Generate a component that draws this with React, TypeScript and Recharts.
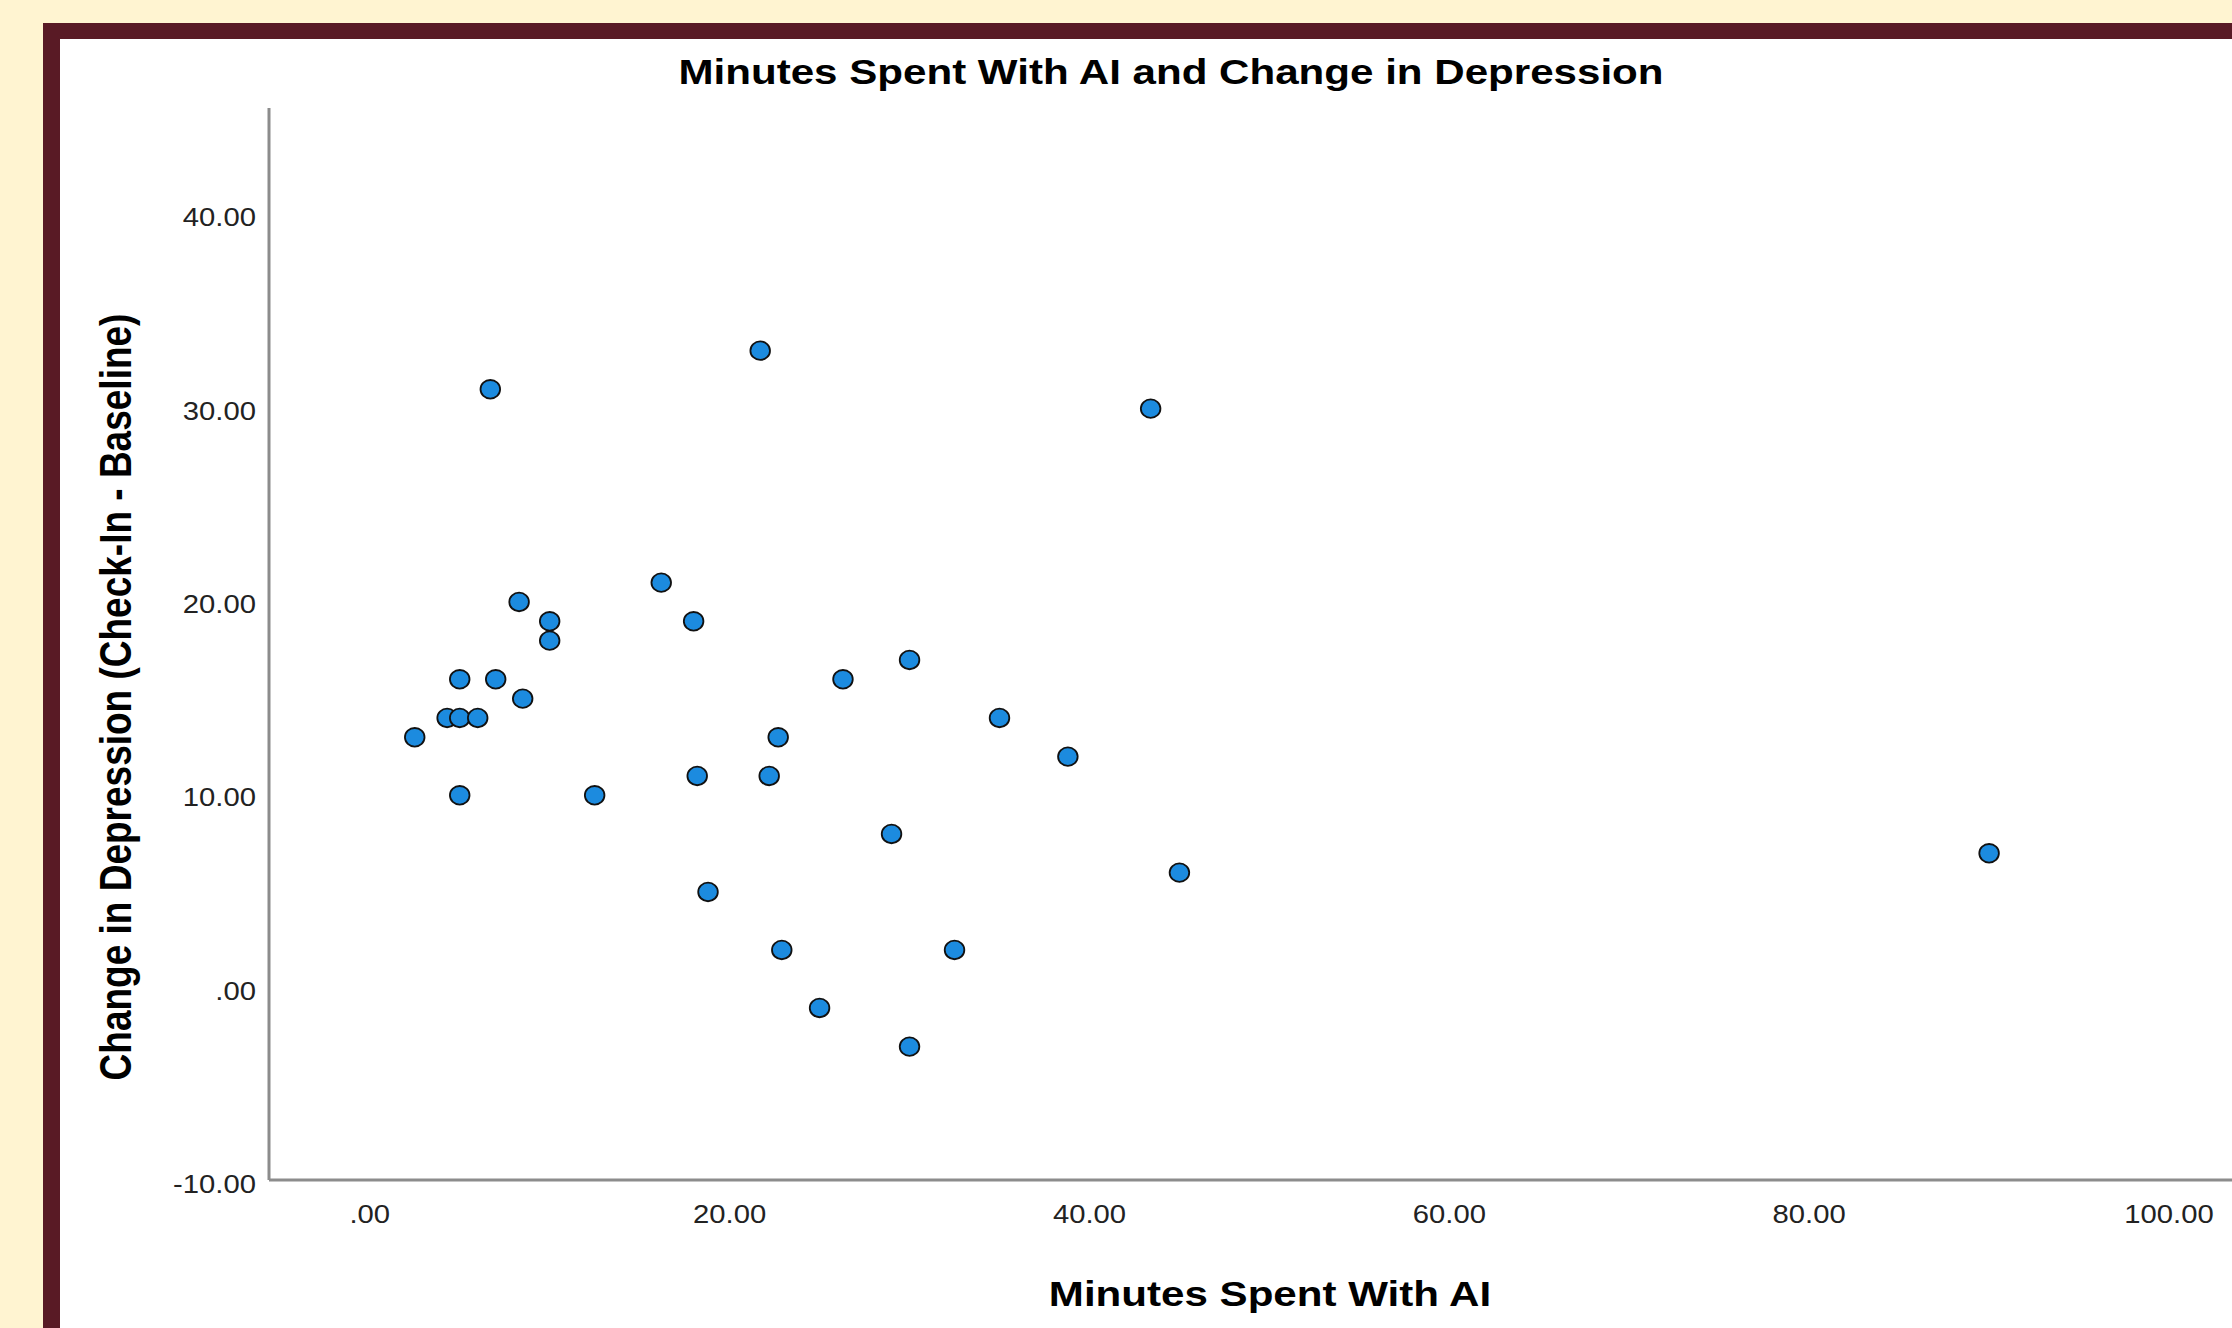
import { ScatterChart, Scatter, XAxis, YAxis } from 'recharts'

// minutes with AI vs change in depression score
const minutes = [
  2.5, 4.3, 5, 6, 5, 7, 5, 6.7, 8.3, 8.5, 10, 10, 12.5, 16.2, 18, 18.2, 18.8, 21.7, 22.2, 22.7, 22.9, 25,
  26.3, 29, 30, 30, 32.5, 35, 38.8, 43.4, 45, 90,
]
const change = [
  13, 14, 14, 14, 16, 16, 10, 31, 20, 15, 19, 18, 10, 21, 19, 11, 5, 33, 11, 13, 2, -1, 16, 8, 17, -3, 2, 14,
  12, 30, 6, 7,
]
const xTicks = [0, 20, 40, 60, 80, 100]
const yTicks = [-10, 0, 10, 20, 30, 40]

const points = minutes.map((m, i) => ({ minutes: m, change: change[i] }))

const FONT = '"Liberation Sans", Arial, sans-serif'
const STRETCH = 1.17

function fmt(v: number): string {
  const s = v.toFixed(2)
  if (s.startsWith('0.')) return s.slice(1)
  return s
}

function XTick({ x, y, payload }: any) {
  return (
    <text
      transform={`translate(${x},${y + 43}) scale(${STRETCH},1)`}
      textAnchor='middle'
      fontFamily={FONT}
      fontSize={25}
      fill='#222'
    >
      {fmt(payload.value)}
    </text>
  )
}

function YTick({ x, y, payload }: any) {
  return (
    <text
      transform={`translate(${x - 13},${y + 11}) scale(${STRETCH},1)`}
      textAnchor='end'
      fontFamily={FONT}
      fontSize={25}
      fill='#222'
    >
      {fmt(payload.value)}
    </text>
  )
}

function Dot({ cx, cy }: any) {
  return <ellipse cx={cx} cy={cy} rx={9.8} ry={9.3} fill='#1C8BDF' stroke='#111' strokeWidth={1.8} />
}

export default function App() {
  return (
    <div
      style={{
        position: 'absolute',
        left: 0,
        top: 0,
        width: 2232,
        height: 1328,
        overflow: 'hidden',
        background: '#FFF4D1',
      }}
    >
      <div
        style={{
          position: 'absolute',
          left: 43,
          top: 23,
          width: 2232,
          height: 1328,
          background: '#591A25',
        }}
      />
      <div
        style={{
          position: 'absolute',
          left: 60,
          top: 39,
          width: 2172,
          height: 1289,
          background: '#fff',
        }}
      >
        <ScatterChart width={2172} height={1289} margin={{ top: 69, right: 0, bottom: 0, left: 0 }}>
          <XAxis
            type='number'
            dataKey='minutes'
            domain={[-5.6, 103.5]}
            ticks={xTicks}
            height={148}
            tickLine={false}
            tickSize={0}
            tickMargin={0}
            axisLine={{ stroke: '#8c8c8c', strokeWidth: 3 }}
            tick={<XTick />}
            allowDataOverflow
          />
          <YAxis
            type='number'
            dataKey='change'
            domain={[-9.9, 45.55]}
            ticks={yTicks}
            width={209}
            tickLine={false}
            tickSize={0}
            tickMargin={0}
            axisLine={{ stroke: '#8c8c8c', strokeWidth: 3 }}
            tick={<YTick />}
            allowDataOverflow
          />
          <Scatter data={points} shape={<Dot />} isAnimationActive={false} />
        </ScatterChart>
        <svg
          width={2172}
          height={1289}
          style={{ position: 'absolute', left: 0, top: 0, pointerEvents: 'none' }}
        >
          <text
            transform={`translate(1111,45) scale(${STRETCH},1)`}
            textAnchor='middle'
            fontFamily={FONT}
            fontWeight='bold'
            fontSize={36}
            fill='#000'
          >
            Minutes Spent With AI and Change in Depression
          </text>
          <text
            transform={`translate(1210,1267) scale(${STRETCH},1)`}
            textAnchor='middle'
            fontFamily={FONT}
            fontWeight='bold'
            fontSize={36}
            fill='#000'
          >
            Minutes Spent With AI
          </text>
          <text
            transform={`translate(71,658) scale(1.22,1) rotate(-90)`}
            textAnchor='middle'
            fontFamily={FONT}
            fontWeight='bold'
            fontSize={37}
            fill='#000'
          >
            Change in Depression (Check-In - Baseline)
          </text>
        </svg>
      </div>
    </div>
  )
}
